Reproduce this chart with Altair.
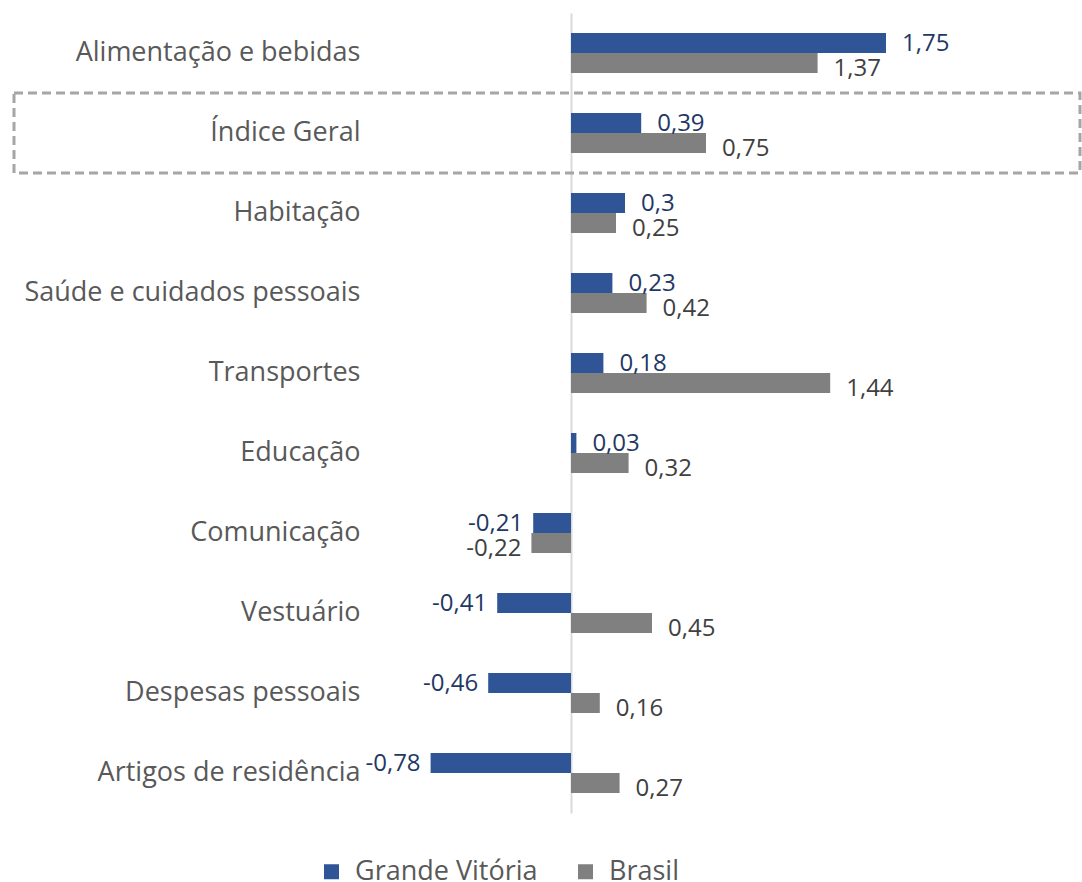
import altair as alt

categories = ["Alimentação e bebidas", "Índice Geral", "Habitação", "Saúde e cuidados pessoais",
              "Transportes", "Educação", "Comunicação", "Vestuário", "Despesas pessoais",
              "Artigos de residência"]
grande_vitoria = [1.75, 0.39, 0.3, 0.23, 0.18, 0.03, -0.21, -0.41, -0.46, -0.78]
brasil = [1.37, 0.75, 0.25, 0.42, 1.44, 0.32, -0.22, 0.45, 0.16, 0.27]
series_names = ["Grande Vitória", "Brasil"]
highlight = "Índice Geral"

rows = []
for c, gv, br in zip(categories, grande_vitoria, brasil):
    for s, v in zip(series_names, [gv, br]):
        rows.append({"cat": c, "series": s, "value": v, "label": str(v).replace(".", ",")})
data = alt.Data(values=rows)

BLUE = "#2F5597"
GRAY = "#808080"
FONT = "Open Sans"
TXT = {"Grande Vitória": "#1F3864", "Brasil": "#404040"}
DY = {"Grande Vitória": 1, "Brasil": 6}

yenc = alt.Y("cat:N", sort=None,
             scale=alt.Scale(paddingInner=0, paddingOuter=0),
             axis=alt.Axis(title=None, ticks=False, domain=False, labelFontSize=27,
                           labelColor="#595959", labelPadding=31, labelLimit=500,
                           labelFont=FONT, grid=False))
yoff = alt.YOffset("series:N", sort=None, scale=alt.Scale(paddingInner=0, paddingOuter=1))
xenc = alt.X("value:Q", scale=alt.Scale(domain=[-1.0, 2.8], nice=False, zero=False),
             axis=alt.Axis(title=None, values=[0], grid=True, gridColor="#D9D9D9", gridWidth=2,
                           labels=False, ticks=False, domain=False))
cenc = alt.Color("series:N", sort=None,
                 scale=alt.Scale(domain=series_names, range=[BLUE, GRAY]),
                 legend=alt.Legend(title=None, orient="none", direction="horizontal",
                                   legendX=-73, legendY=845, symbolType="square",
                                   symbolSize=225, labelFontSize=27, labelColor="#595959",
                                   labelFont=FONT, labelOffset=10, columnPadding=34,
                                   labelLimit=400))

base = alt.Chart(data)
bars = base.mark_bar().encode(y=yenc, yOffset=yoff, x=xenc, color=cenc)
box = base.transform_filter(
    (alt.datum.cat == highlight) & (alt.datum.series == "Brasil")
).mark_rect(fillOpacity=0, stroke="#A6A6A6", strokeWidth=3, strokeDash=[9, 5]).encode(
    y=yenc, x=alt.value(-377), x2=alt.value(689))

layers = [bars]
for s in series_names:
    sub = base.transform_filter(alt.datum.series == s)
    layers.append(sub.transform_filter(alt.datum.value >= 0).mark_text(
        align="left", baseline="middle", dx=16, dy=DY[s], fontSize=24, font=FONT, color=TXT[s]
    ).encode(y=yenc, yOffset=yoff, x=xenc, text="label:N"))
    layers.append(sub.transform_filter(alt.datum.value < 0).mark_text(
        align="right", baseline="middle", dx=-10, dy=DY[s], fontSize=24, font=FONT, color=TXT[s]
    ).encode(y=yenc, yOffset=yoff, x=xenc, text="label:N"))
layers.append(box)

chart = alt.layer(*layers).properties(
    width=684, height=800,
    autosize=alt.AutoSizeParams(type="none"),
    padding={"left": 391, "top": 13, "right": 7, "bottom": 69},
).configure_view(strokeWidth=0)

chart.save("out.html", embed_options={"renderer": "svg", "actions": False})
